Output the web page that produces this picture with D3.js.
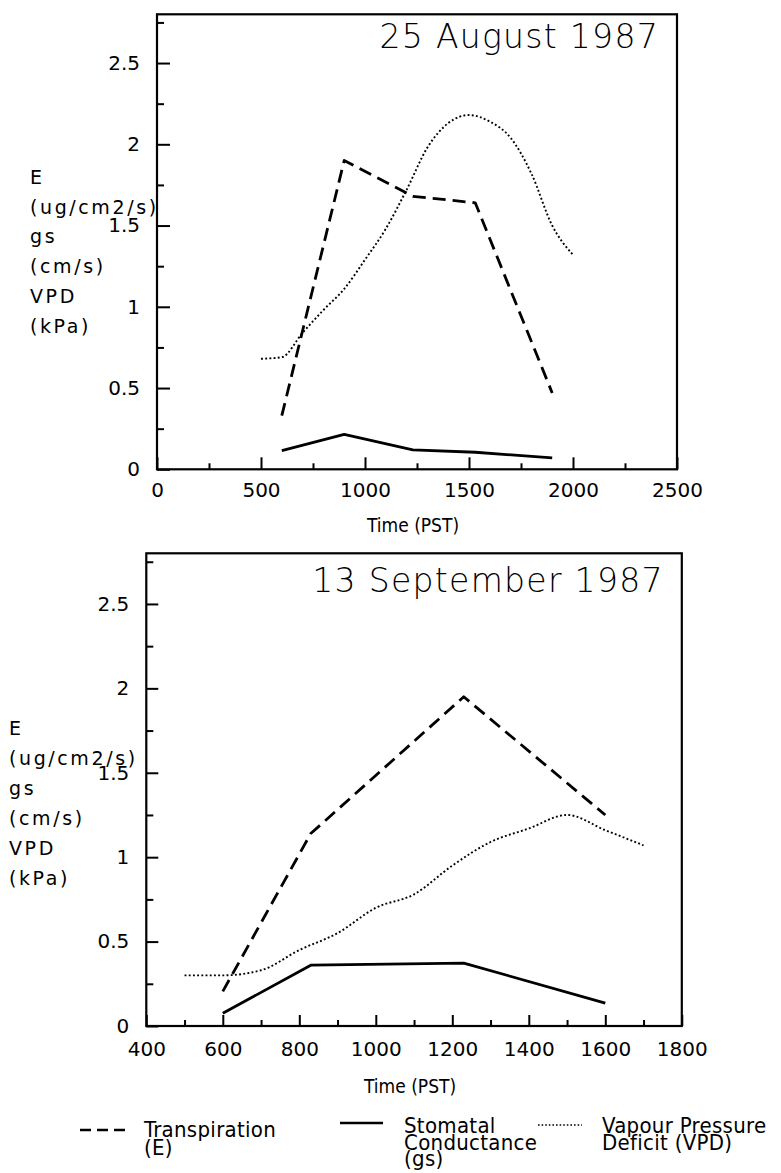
<!DOCTYPE html>
<html>
<head>
<meta charset="utf-8">
<script src="https://cdn.jsdelivr.net/npm/d3@7"></script>
<style>
  body { margin: 0; background: #fff; }
  svg { display: block; }
  .tick text { font-family: "DejaVu Sans", sans-serif; font-size: 20px; fill: #000; }
  .tick line { stroke: #000; stroke-width: 2; }
</style>
</head>
<body>
<div id="chart"></div>
<script>
// 25 August 1987
const augTime = [600, 900, 1230, 1530, 1900];
const augE = [0.33, 1.90, 1.68, 1.64, 0.47];
const augGs = [0.115, 0.215, 0.12, 0.105, 0.07];
const augVpdTime = [500, 600, 700, 800, 900, 1000, 1100, 1200, 1300, 1400, 1500, 1600, 1700, 1800, 1900, 2000];
const augVpd = [0.68, 0.69, 0.84, 0.98, 1.11, 1.29, 1.48, 1.72, 1.98, 2.13, 2.18, 2.14, 2.04, 1.82, 1.50, 1.32];

// 13 September 1987
const sepTime = [600, 830, 1230, 1600];
const sepE = [0.205, 1.14, 1.95, 1.25];
const sepGs = [0.075, 0.36, 0.373, 0.135];
const sepVpdTime = [500, 600, 700, 800, 900, 1000, 1100, 1200, 1300, 1400, 1500, 1600, 1700];
const sepVpd = [0.30, 0.30, 0.33, 0.45, 0.55, 0.70, 0.78, 0.95, 1.09, 1.17, 1.25, 1.16, 1.07];

// ticks
const augXTicks = [0, 500, 1000, 1500, 2000, 2500];
const sepXTicks = [400, 600, 800, 1000, 1200, 1400, 1600, 1800];
const yTicks = [0, 0.5, 1, 1.5, 2, 2.5];
const yTitleLines = ["E", "(ug/cm2/s)", "gs", "(cm/s)", "VPD", "(kPa)"];
const xTitle = "Time (PST)";

const legendItems = [
  { key: "E", lines: ["Transpiration", "(E)"] },
  { key: "gs", lines: ["Stomatal", "Conductance", "(gs)"] },
  { key: "vpd", lines: ["Vapour Pressure", "Deficit (VPD)"] }
];

const styles = {
  E: { width: 2.8, dash: "13 7" },
  gs: { width: 2.8, dash: null },
  vpd: { width: 1.9, dash: "1.9 2.3" }
};

const svg = d3.select("#chart").append("svg")
  .attr("width", 781)
  .attr("height", 1173);

function drawPanel(p) {
  const x = d3.scaleLinear().domain(p.xDomain).range([p.left, p.right]);
  const y = d3.scaleLinear().domain([0, 2.8]).range([p.bottom, p.top]);
  const g = svg.append("g");

  // minor ticks first, then labelled ones
  g.append("g").attr("transform", `translate(0,${p.bottom})`)
    .call(d3.axisBottom(x).tickValues(p.xMinor).tickSize(-p.minorLen).tickFormat(""));
  g.append("g").attr("transform", `translate(0,${p.bottom})`)
    .call(d3.axisBottom(x).tickValues(p.xTicks).tickSize(-p.majorLen).tickPadding(p.xPad).tickFormat(d3.format("d")));
  g.append("g").attr("transform", `translate(${p.left},0)`)
    .call(d3.axisLeft(y).tickValues(d3.range(0.25, 2.8, 0.5)).tickSize(-p.minorLen - 1).tickFormat(""));
  g.append("g").attr("transform", `translate(${p.left},0)`)
    .call(d3.axisLeft(y).tickValues(yTicks).tickSize(-p.majorLen - 1).tickPadding(17).tickFormat(d3.format("")));
  g.selectAll(".domain").remove();

  g.append("rect")
    .attr("x", p.left).attr("y", p.top)
    .attr("width", p.right - p.left).attr("height", p.bottom - p.top)
    .attr("fill", "none").attr("stroke", "#000").attr("stroke-width", 2.2);

  const line = d3.line().x(d => x(d[0])).y(d => y(d[1]));
  const smooth = d3.line().curve(d3.curveMonotoneX).x(d => x(d[0])).y(d => y(d[1]));

  const series = [
    { key: "vpd", data: d3.zip(p.vpdTime, p.vpd), gen: smooth },
    { key: "E", data: d3.zip(p.time, p.E), gen: line },
    { key: "gs", data: d3.zip(p.time, p.gs), gen: line }
  ];
  series.forEach(s => {
    g.append("path")
      .attr("d", s.gen(s.data))
      .attr("fill", "none")
      .attr("stroke", "#000")
      .attr("stroke-width", styles[s.key].width)
      .attr("stroke-dasharray", styles[s.key].dash)
      .attr("stroke-linejoin", "round");
  });

  g.append("text")
    .attr("x", p.right - 18).attr("y", p.titleY)
    .attr("text-anchor", "end")
    .style("font-family", "DejaVu Sans, sans-serif")
    .style("font-weight", 300)
    .style("font-size", "33px")
    .style("letter-spacing", "1.3px")
    .text(p.title);

  g.append("text")
    .attr("x", (p.left + p.right) / 2 - 4).attr("y", p.xTitleY)
    .attr("text-anchor", "middle")
    .style("font-family", "DejaVu Sans Condensed, DejaVu Sans, sans-serif")
    .style("font-stretch", "condensed")
    .style("font-size", "19px")
    .text(xTitle);

  g.selectAll(".ytitle").data(yTitleLines).join("text")
    .attr("x", p.yTitleX)
    .attr("y", (d, i) => p.yTitleY + i * p.yTitleStep)
    .style("font-family", "DejaVu Sans, sans-serif")
    .style("font-size", "19px")
    .style("letter-spacing", "2.6px")
    .text(d => d);
}

drawPanel({
  title: "25 August 1987", titleY: 48,
  left: 157, right: 677, top: 14.3, bottom: 469.3,
  xDomain: [0, 2500], xTicks: augXTicks, xMinor: d3.range(250, 2500, 500),
  majorLen: 12, minorLen: 6, xPad: 14, xTitleY: 532,
  yTitleX: 30, yTitleY: 184, yTitleStep: 29.7,
  time: augTime, E: augE, gs: augGs, vpdTime: augVpdTime, vpd: augVpd
});

drawPanel({
  title: "13 September 1987", titleY: 592,
  left: 146.3, right: 681.8, top: 553.3, bottom: 1026,
  xDomain: [400, 1800], xTicks: sepXTicks, xMinor: d3.range(500, 1800, 200),
  majorLen: 11, minorLen: 6, xPad: 16, xTitleY: 1093,
  yTitleX: 9, yTitleY: 735, yTitleStep: 30,
  time: sepTime, E: sepE, gs: sepGs, vpdTime: sepVpdTime, vpd: sepVpd
});

// legend
const legend = svg.append("g")
  .style("font-family", "DejaVu Sans Condensed, DejaVu Sans, sans-serif")
  .style("font-stretch", "condensed")
  .style("font-size", "22px")
  .style("letter-spacing", "0.3px");

const legendPos = {
  E: { x1: 80, x2: 128, ly: 1130, tx: 144, ty: 1137, step: 18 },
  gs: { x1: 340, x2: 383, ly: 1123, tx: 404, ty: 1133, step: 16.5 },
  vpd: { x1: 538, x2: 582, ly: 1125, tx: 602, ty: 1133, step: 17 }
};

legendItems.forEach(item => {
  const pos = legendPos[item.key];
  legend.append("line")
    .attr("x1", pos.x1).attr("x2", pos.x2)
    .attr("y1", pos.ly).attr("y2", pos.ly)
    .attr("stroke", "#000")
    .attr("stroke-width", item.key === "vpd" ? 1.6 : 2.4)
    .attr("stroke-dasharray", item.key === "E" ? "11 6" : item.key === "vpd" ? "1.6 2" : null);
  item.lines.forEach((t, i) => {
    legend.append("text")
      .attr("x", pos.tx)
      .attr("y", pos.ty + i * pos.step)
      .text(t);
  });
});
</script>
</body>
</html>
